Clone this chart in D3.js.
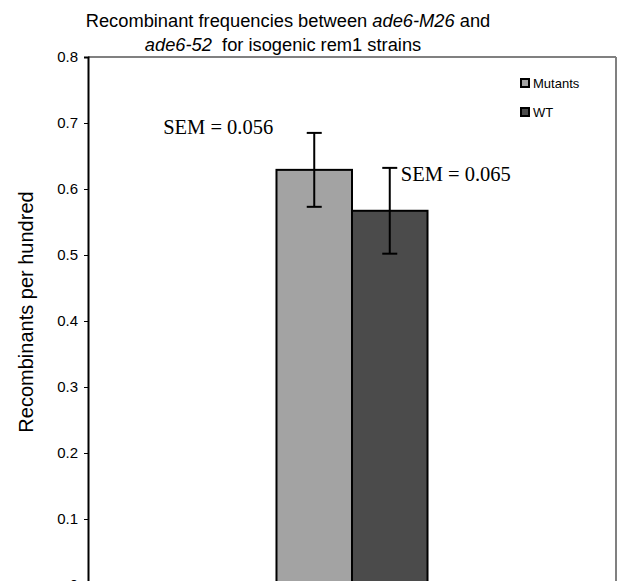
<!DOCTYPE html>
<html>
<head>
<meta charset="utf-8">
<script src="https://cdn.jsdelivr.net/npm/d3@7"></script>
<style>
  body { margin: 0; background: #fff; }
  svg { display: block; }
</style>
</head>
<body>
<div id="chart"></div>
<script>
const width = 617;
const height = 581;

// data
const groups = [""];
const series = ["Mutants", "WT"];
const means = [0.629, 0.567];
const sems = [0.056, 0.065];
const semLabels = ["SEM = 0.056", "SEM = 0.065"];
const yTicks = [0, 0.1, 0.2, 0.3, 0.4, 0.5, 0.6, 0.7, 0.8];
const colors = ["#a3a3a3", "#4b4b4b"];

const margin = { top: 57, right: 1, bottom: -4, left: 88 };
const chartWidth = width - margin.left - margin.right;
const chartHeight = height - margin.top - margin.bottom;

const svg = d3.select("#chart")
  .append("svg")
  .attr("width", width)
  .attr("height", height);

const yScale = d3.scaleLinear().domain([0, 0.8]).range([chartHeight, 0]);
const xScale = d3.scaleBand()
  .domain(groups)
  .range([0, chartWidth])
  .paddingInner(0)
  .paddingOuter(1.248);
const xSub = d3.scaleBand()
  .domain(series)
  .range([0, xScale.bandwidth()]);

const inner = svg.append("g")
  .attr("transform", `translate(${margin.left},${margin.top})`);

// bordo area grafico (sopra e destra grigio)
inner.append("line")
  .attr("x1", 0).attr("x2", chartWidth)
  .attr("y1", 0).attr("y2", 0)
  .attr("stroke", "#808080").attr("stroke-width", 2);
inner.append("line")
  .attr("x1", chartWidth).attr("x2", chartWidth)
  .attr("y1", 0).attr("y2", chartHeight)
  .attr("stroke", "#808080").attr("stroke-width", 2);

// barre
const bars = series.map((s, i) => ({ name: s, value: means[i], sem: sems[i], label: semLabels[i], color: colors[i] }));

const g = inner.append("g")
  .attr("transform", `translate(${xScale(groups[0])},0)`);

g.selectAll("rect")
  .data(bars)
  .join("rect")
  .attr("x", d => xSub(d.name))
  .attr("y", d => yScale(d.value))
  .attr("width", xSub.bandwidth())
  .attr("height", d => chartHeight - yScale(d.value))
  .attr("fill", d => d.color)
  .attr("stroke", "#000")
  .attr("stroke-width", 2);

// barre di errore
const capW = 7.5;
const err = g.selectAll("g.err")
  .data(bars)
  .join("g")
  .attr("class", "err")
  .attr("transform", d => `translate(${xSub(d.name) + xSub.bandwidth() / 2},0)`);

err.append("line")
  .attr("y1", d => yScale(d.value + d.sem))
  .attr("y2", d => yScale(d.value - d.sem))
  .attr("stroke", "#000").attr("stroke-width", 2);
err.append("line")
  .attr("x1", -capW).attr("x2", capW)
  .attr("y1", d => yScale(d.value + d.sem))
  .attr("y2", d => yScale(d.value + d.sem))
  .attr("stroke", "#000").attr("stroke-width", 2);
err.append("line")
  .attr("x1", -capW).attr("x2", capW)
  .attr("y1", d => yScale(d.value - d.sem))
  .attr("y2", d => yScale(d.value - d.sem))
  .attr("stroke", "#000").attr("stroke-width", 2);

// etichette SEM
err.append("text")
  .text(d => d.label)
  .attr("x", (d, i) => i === 0 ? -41 : 11)
  .attr("y", (d, i) => i === 0 ? yScale(d.value + d.sem) + 1 : yScale(d.value + d.sem) + 13)
  .attr("text-anchor", (d, i) => i === 0 ? "end" : "start")
  .style("font-family", "'Liberation Serif', 'Times New Roman', serif")
  .style("font-size", "20.5px");

// asse y
const yAxis = inner.append("g")
  .call(d3.axisLeft(yScale).tickValues(yTicks).tickSize(4).tickFormat(d => d === 0 ? "0" : d3.format(".1f")(d)));
yAxis.select(".domain").attr("stroke", "#000").attr("stroke-width", 2);
yAxis.selectAll(".tick line").attr("stroke", "#000");
yAxis.selectAll("text")
  .attr("x", -10)
  .style("font-family", "'Liberation Sans', Arial, sans-serif")
  .style("font-size", "15px")
  .attr("fill", "#000");

// etichetta y
svg.append("text")
  .text("Recombinants per hundred")
  .attr("transform", `translate(33,312) rotate(-90)`)
  .attr("text-anchor", "middle")
  .style("font-family", "'Liberation Sans', Arial, sans-serif")
  .style("font-size", "20px");

// titolo
const title = svg.append("text")
  .attr("text-anchor", "middle")
  .style("font-family", "'Liberation Sans', Arial, sans-serif")
  .style("font-size", "18.3px")
  .style("white-space", "pre");
const t1 = title.append("tspan").attr("x", 288).attr("y", 27);
t1.append("tspan").text("Recombinant frequencies between ");
t1.append("tspan").text("ade6-M26").style("font-style", "italic");
t1.append("tspan").text(" and");
const t2 = title.append("tspan").attr("x", 283).attr("y", 51);
t2.append("tspan").text("ade6-52").style("font-style", "italic");
t2.append("tspan").text("  for isogenic rem1 strains");

// legenda
const legend = svg.append("g").attr("transform", "translate(520,78)");
const item = legend.selectAll("g")
  .data(bars)
  .join("g")
  .attr("transform", (d, i) => `translate(0,${i * 29})`);
item.append("rect")
  .attr("x", 1).attr("y", 1)
  .attr("width", 8).attr("height", 8)
  .attr("fill", d => d.color)
  .attr("stroke", "#000")
  .attr("stroke-width", 2);
item.append("text")
  .text(d => d.name)
  .attr("x", 13)
  .attr("y", 10)
  .style("font-family", "'Liberation Sans', Arial, sans-serif")
  .style("font-size", "13px");
</script>
</body>
</html>
